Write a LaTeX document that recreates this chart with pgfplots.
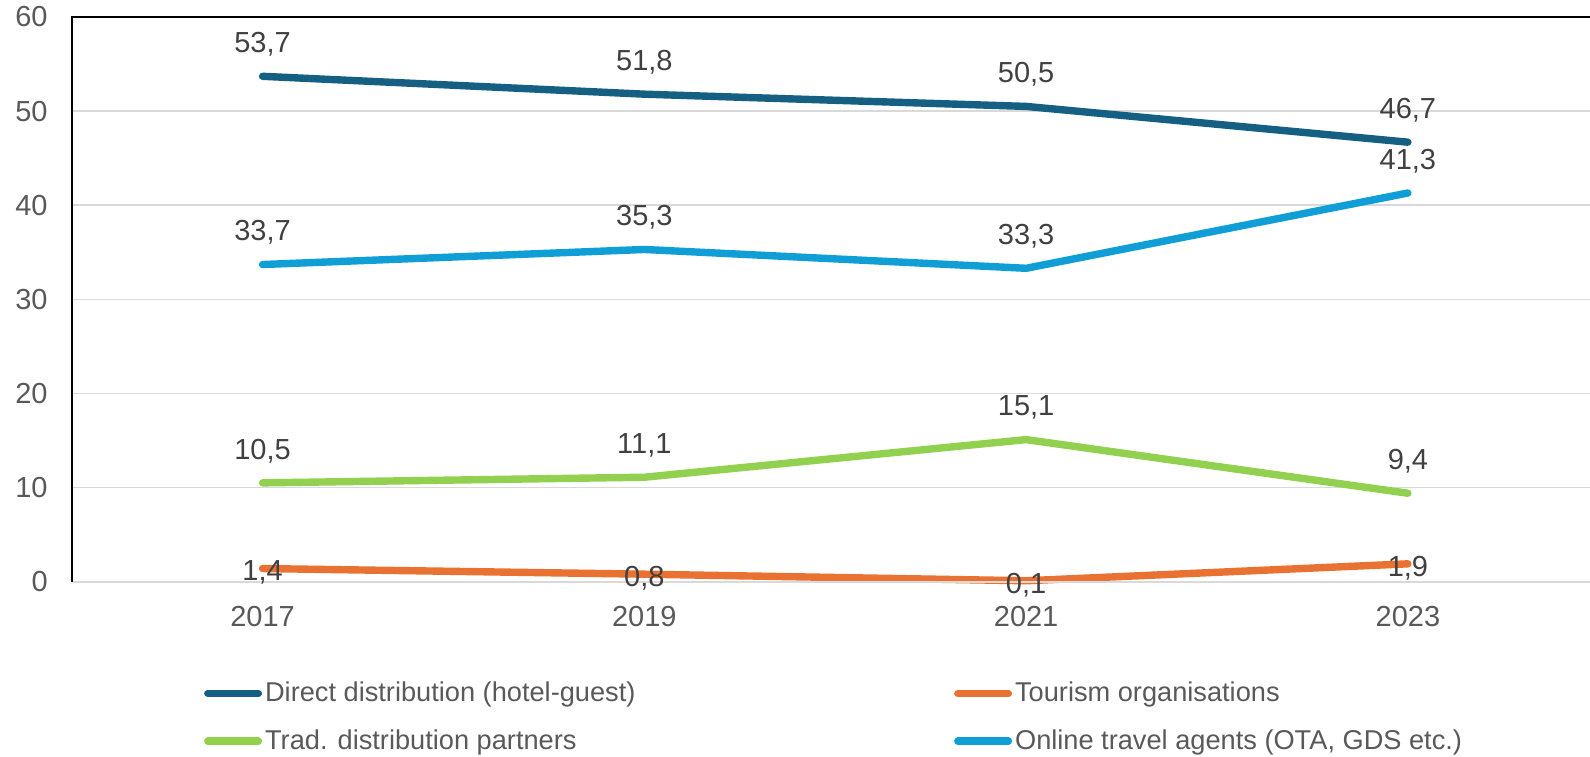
\documentclass[border=0pt]{standalone}
\usepackage{fontspec}
\setmainfont{Liberation Sans}
\usepackage{pgfplots}
\pgfplotsset{compat=1.18}
\definecolor{cdirect}{HTML}{156082}
\definecolor{ctour}{HTML}{E97132}
\definecolor{ctrad}{HTML}{92D050}
\definecolor{cota}{HTML}{0F9ED5}
\definecolor{tickgray}{HTML}{595959}
\definecolor{labgray}{HTML}{404040}
\definecolor{gridgray}{HTML}{D9D9D9}
\begin{document}
\begin{tikzpicture}
\path[use as bounding box] (-35.85pt,-87.15pt) rectangle (759.15pt,290.85pt);
\begin{axis}[
  at={(0,0)}, anchor=south west,
  scale only axis, width=759.15pt, height=282.35pt,
  xmin=-0.5, xmax=3.477, ymin=0, ymax=60,
  xtick={0,1,2,3}, xticklabels={2017,2019,2021,2023},
  ytick={0,10,20,30,40,50,60},
  yticklabels={0,10,20,30,40,50,60},
  major tick length=0pt,
  axis line style={draw=none},
  ymajorgrids, grid style={gridgray, line width=0.75pt},
  tick label style={font=\fontsize{14.5}{17}\selectfont, text=tickgray},
  /pgf/number format/assume math mode=true,
  yticklabel style={xshift=-8.5pt},
  xticklabel style={yshift=-8.5pt},
  clip=false,
  nodes near coords={\pgfmathprintnumber[use comma,fixed,fixed zerofill,precision=1,assume math mode=true]{\pgfplotspointmeta}},
  every node near coord/.append style={font=\fontsize{14.5}{17}\selectfont, text=labgray, anchor=center, yshift=16pt},
  every axis plot/.append style={line width=3.7pt, line cap=round, line join=round},
  legend columns=2,
  legend cell align=left,
  legend image code/.code={\draw[line cap=round, line width=3.7pt] (1.85pt,0pt) -- (27.15pt,0pt);},
  legend style={draw=none, fill=none, at={(0,0)}, anchor=north west, xshift=66pt, yshift=-48.5pt,
    font=\fontsize{13.6}{16}\selectfont, text=tickgray,
    /tikz/every even column/.style={column sep=0pt},
    row sep=9.5pt, inner sep=0pt, nodes={inner sep=1.5pt}},
]
\addplot[cdirect] coordinates {(0,53.7) (1,51.8) (2,50.5) (3,46.7)};
\addlegendentry{\makebox[343pt][l]{Direct distribution (hotel-guest)}}
\addplot[ctour, every node near coord/.append style={yshift=-18pt}] coordinates {(0,1.4) (1,0.8) (2,0.1) (3,1.9)};
\addlegendentry{Tourism organisations}
\addplot[ctrad] coordinates {(0,10.5) (1,11.1) (2,15.1) (3,9.4)};
\addlegendentry{\makebox[343pt][l]{Trad. distribution partners}}
\addplot[cota] coordinates {(0,33.7) (1,35.3) (2,33.3) (3,41.3)};
\addlegendentry{Online travel agents (OTA, GDS etc.)}
\draw[gridgray, line width=1pt] (rel axis cs:0,0) -- (rel axis cs:1,0);
\draw[black, line width=1pt] (rel axis cs:0,0) -- (rel axis cs:0,1) -- (rel axis cs:1,1);
\end{axis}
\end{tikzpicture}
\end{document}
